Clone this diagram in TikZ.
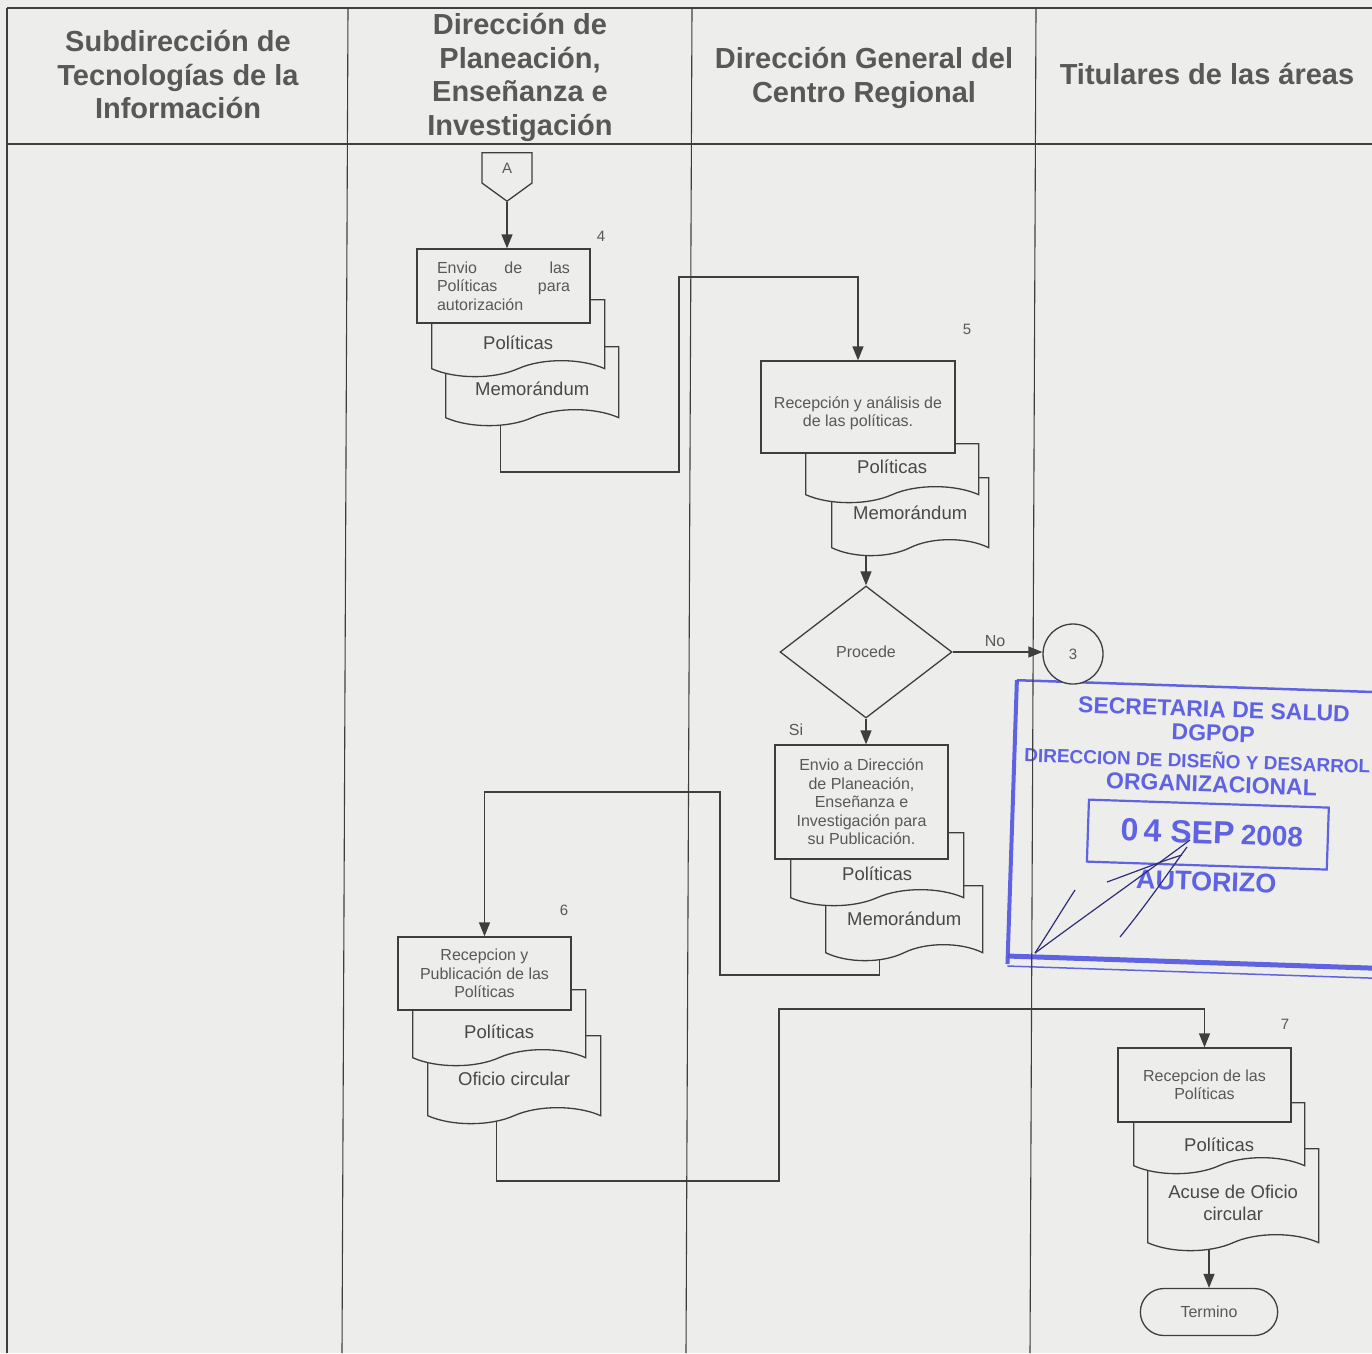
\documentclass[tikz,border=0pt]{standalone}
\usepackage{fontspec}
\setmainfont{Liberation Sans}
\usetikzlibrary{shapes.geometric,shapes.symbols,shapes.misc,arrows.meta}

\definecolor{paper}{RGB}{237,237,235}
\definecolor{ink}{RGB}{62,62,62}
\definecolor{txt}{RGB}{88,88,88}
\definecolor{doctxt}{RGB}{72,72,72}
\definecolor{stampblue}{RGB}{80,84,226}
\definecolor{pen}{RGB}{45,45,120}

\pgfdeclarelayer{back}
\pgfdeclarelayer{wires}
\pgfsetlayers{back,wires,main}

\begin{document}
\begin{tikzpicture}[x=1pt, y=-1pt,
    lane/.style = {draw=ink, line width=1.1pt},
    head/.style = {text=txt, font=\fontsize{29}{33.5}\selectfont\bfseries, align=center},
    proc/.style = {draw=ink, fill=paper, line width=1.3pt, text=txt, font=\fontsize{16}{18.5}\selectfont, align=center, inner sep=0pt, minimum width=173},
    docu/.style = {tape, tape bend top=none, tape bend bottom=in and out, tape bend height=16, draw=ink, fill=paper, line width=1.3pt, text=doctxt, font=\fontsize{18.5}{22}\selectfont, align=center, inner sep=0pt, anchor=north west, text depth=0pt},
    small/.style = {text=txt, font=\fontsize{16}{18.5}\selectfont},
    num/.style = {text=txt, font=\fontsize{15}{18}\selectfont},
    conn/.style = {draw=ink, line width=1.3pt},
    arr/.style = {conn, -{Triangle[length=14pt,width=11pt]}},
    stamptext/.style = {text=stampblue, font=\fontsize{23}{24}\selectfont\bfseries, inner sep=0pt},
  ]
    \useasboundingbox (0,0) rectangle (1372,1353);

    \begin{pgfonlayer}{back}
    \fill[paper] (0,0) rectangle (1372,1353);
    \begin{scope}
    \clip (0,0) rectangle (1372,1353);
    \begin{scope}[rotate around={-1.9:(1190,830)}, transform shape, opacity=0.9]
        \draw[stampblue, line width=2.5pt] (1012,686) -- (1420,686);
        \draw[stampblue, line width=4pt] (1012,686) -- (1012,970);
        \draw[stampblue, line width=5pt] (1012,962) -- (1420,962);
        \draw[stampblue, line width=1.5pt] (1012,972) -- (1420,972);
        \draw[stampblue, line width=2.2pt] (1088,803) rectangle (1328,865);
        \node[stamptext, align=center] (st1) at (1210,746) {SECRETARIA DE SALUD\\DGPOP\\[3pt]{\fontsize{19}{20}\selectfont\hspace*{-30pt}DIRECCION DE DISEÑO Y DESARROL}\\ORGANIZACIONAL};
        \node[stamptext] (st2) at (1212,832) {{\fontsize{32}{32}\selectfont 0\,4 SEP} {\fontsize{28}{28}\selectfont 2008}};
        \node[stamptext, font=\fontsize{27}{27}\selectfont\bfseries] (st3) at (1208,881) {AUTORIZO};
    \end{scope}
    \draw[pen, line width=1.2pt] (1035,953) .. controls (1100,905) and (1150,870) .. (1190,840);
    \draw[pen, line width=1.2pt] (1035,953) .. controls (1050,930) and (1062,910) .. (1075,890);
    \draw[pen, line width=1.2pt] (1107,882) .. controls (1140,870) and (1165,860) .. (1182,855);
    \draw[pen, line width=1.2pt] (1120,937) .. controls (1150,900) and (1170,870) .. (1187,847);
    \end{scope}
    \end{pgfonlayer}

    \node[head] (h1) at (178,75) {Subdirección de\\Tecnologías de la\\Información};
    \node[head] (h2) at (520,77.5) {Dirección de\\Planeación,\\Enseñanza e\\Investigación};
    \node[head] (h3) at (864,78) {Dirección General del\\Centro Regional};
    \node[head] (h4) at (1207,74) {Titulares de las áreas};

    \node[draw=ink, fill=paper, line width=1.3pt, signal, signal to=south, signal pointer angle=108, minimum width=50, minimum height=34, inner sep=0pt, num, anchor=north] (A) at (507,152) {A};

    \node[docu, minimum width=173, minimum height=79, text height=34.2] (mem4) at (445,346) {Memorándum};
    \node[docu, minimum width=173, minimum height=77, text height=38.2] (pol4) at (431,299) {Políticas};
    \node[proc, minimum height=74, align=left, text width=133] (env4) at (503.5,286) {Envio\hfill de\hfill las\\Políticas\hfill para\\autorización};
    \node[num] (n4) at (601,236) {4};

    \node[docu, minimum width=157, minimum height=78, text height=21.2] (mem5) at (831,477) {Memorándum};
    \node[docu, minimum width=173, minimum height=59, text height=16.2] (pol5) at (805,443) {Políticas};
    \node[proc, minimum width=194, minimum height=92, text depth=0pt, text height=39.4] (rec5) at (858,407) {Recepción y análisis de\\de las políticas.};
    \node[num] (n5) at (967,329) {5};

    \node[draw=ink, fill=paper, line width=1.3pt, diamond, minimum width=172, minimum height=132, inner sep=0pt, small] (dec) at (866,652) {Procede};
    \node[circle, draw=ink, fill=paper, line width=1.3pt, minimum size=60, inner sep=0pt, num] (c3) at (1073,654) {3};
    \node[small] (no) at (995,641) {No};
    \node[small] (si) at (796,730) {Si};

    \node[docu, minimum width=157, minimum height=75, text height=20.2] (memE) at (825,885) {Memorándum};
    \node[docu, minimum width=173, minimum height=73, text height=38.2] (polE) at (790,832) {Políticas};
    \node[proc, minimum height=114] (envio) at (861.5,802) {Envio a Dirección\\de Planeación,\\Enseñanza e\\Investigación para\\su Publicación.};

    \node[docu, minimum width=173, minimum height=88, text height=27.2] (ofi6) at (427,1035) {Oficio circular};
    \node[docu, minimum width=173, minimum height=76, text height=37.2] (pol6) at (412,989) {Políticas};
    \node[proc, minimum height=73] (rec6) at (484.5,973.5) {Recepcion y\\Publicación de las\\Políticas};
    \node[num] (n6) at (564,910) {6};

    \node[docu, minimum width=171, minimum height=102, text height=57.2] (acu7) at (1147,1148) {Acuse de Oficio\\circular};
    \node[docu, minimum width=171, minimum height=71, text height=42.2] (pol7) at (1133,1102) {Políticas};
    \node[proc, minimum height=74] (rec7) at (1204.5,1085) {Recepcion de las\\Políticas};
    \node[num] (n7) at (1285,1024) {7};

    \node[rounded rectangle, draw=ink, fill=paper, line width=1.3pt, minimum width=144, minimum height=47, small] (fin) at (1209,1312) {Termino};

    \begin{pgfonlayer}{wires}
    \draw[lane] (7,8) -- (1372,8);
    \draw[lane] (7,144) -- (1372,144);
    \draw[lane] (7,8) -- (7,1353);
    \draw[lane] (348,8) -- (342,1353);
    \draw[lane] (692,8) -- (686,1353);
    \draw[lane] (1036,8) -- (1030,1353);

    \draw[arr] (A.south) -- (A.south |- env4.north);
    \draw[arr] ([xshift=-31.5]mem4.south) |- (679,472) |- (rec5.north |- 0,277) -- (rec5.north);
    \draw[arr] (dec.north |- mem5.south) -- (dec.north);
    \draw[arr] (dec.east) -- (dec.east -| c3.west);
    \draw[arr] (dec.south) -- (dec.south |- envio.north);
    \draw[arr] ([xshift=-24.5]memE.south) |- (720,975) |- (rec6.north |- 0,792) -- (rec6.north);
    \draw[arr] ([xshift=-17.5]ofi6.south) |- (779,1181) |- (rec7.north |- 0,1009) -- (rec7.north);
    \draw[arr] (fin.north |- acu7.south) -- (fin.north);
    \end{pgfonlayer}
\end{tikzpicture}
\end{document}
